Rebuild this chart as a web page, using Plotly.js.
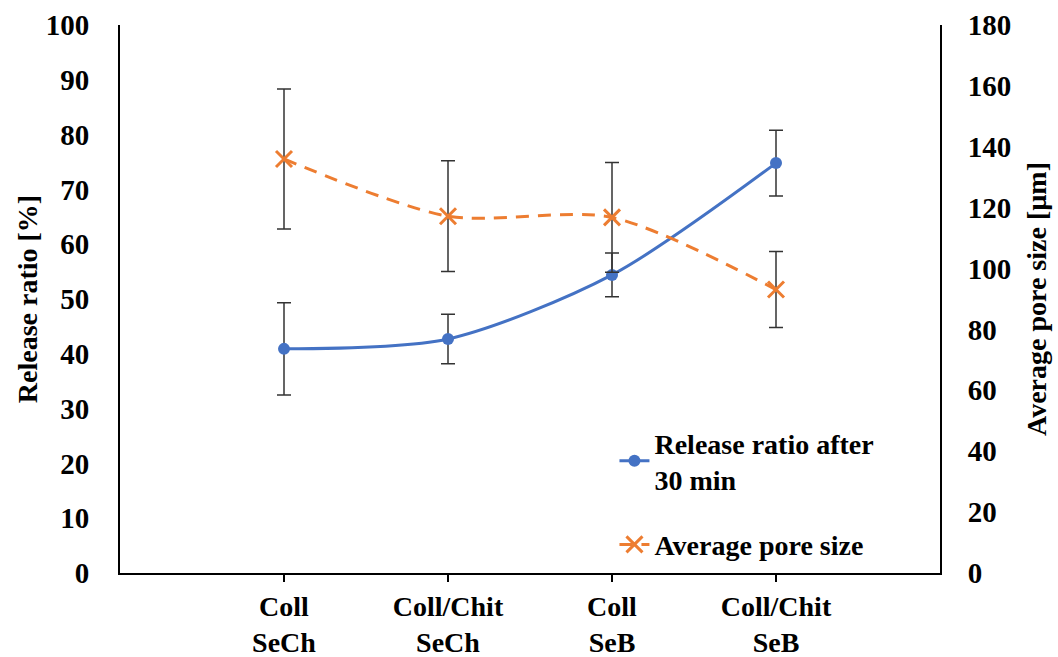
<!DOCTYPE html>
<html>
<head>
<meta charset="utf-8">
<script src="https://cdn.plot.ly/plotly-3.0.1.min.js"></script>
<style>html,body{margin:0;padding:0;background:#fff;}#chart{width:1058px;height:657px;}</style>
</head>
<body>
<div id="chart"></div>
<script>
const categories = ["Coll<br>SeCh", "Coll/Chit<br>SeCh", "Coll<br>SeB", "Coll/Chit<br>SeB"];
const releaseRatio = [40.9, 42.7, 54.4, 74.8];
const releaseErr = [8.4, 4.5, 4.0, 6.0];
const poreSize = [136, 117.2, 116.8, 93.1];
const poreErr = [23, 18.2, 18, 12.5];
const leftTicks = [0,10,20,30,40,50,60,70,80,90,100];
const rightTicks = [0,20,40,60,80,100,120,140,160,180];

const font = "Liberation Serif";

const traces = [
  {
    x: categories, y: poreSize, yaxis: 'y2', name: 'Average pore size',
    type: 'scatter', mode: 'lines+markers', legendgroup: 'b', legendrank: 2,
    line: {color: '#ED7D31', width: 3, dash: '13px,9px', shape: 'spline', smoothing: 0.8},
    marker: {symbol: 'x-thin-open', size: 16, color: '#ED7D31', line: {color: '#ED7D31', width: 3}},
    error_y: {type: 'data', array: poreErr, visible: true, color: '#333333', thickness: 1.5, width: 7}
  },
  {
    x: categories, y: releaseRatio, yaxis: 'y', name: 'Release ratio after<br>30 min',
    type: 'scatter', mode: 'lines+markers', legendgroup: 'a', legendrank: 1,
    line: {color: '#4472C4', width: 3, shape: 'spline', smoothing: 0.8},
    marker: {symbol: 'circle', size: 12, color: '#4472C4'},
    error_y: {type: 'data', array: releaseErr, visible: true, color: '#333333', thickness: 1.5, width: 7}
  }
];

const layout = {
  width: 1058, height: 657,
  margin: {l: 120, r: 118, t: 25, b: 84},
  paper_bgcolor: '#fff', plot_bgcolor: '#fff',
  font: {family: font, size: 24, color: '#000'},
  showlegend: true,
  legend: {
    x: 0.603, y: 0.283, xanchor: 'left', yanchor: 'top',
    traceorder: 'grouped', tracegroupgap: 26,
    font: {family: font, size: 28, color: '#000', weight: 700},
    bgcolor: 'rgba(0,0,0,0)'
  },
  xaxis: {
    type: 'category', range: [-1, 4],
    showline: true, linecolor: '#000', linewidth: 2,
    ticks: 'outside', ticklen: 7, tickcolor: '#000', tickwidth: 1.5,
    showgrid: false, zeroline: false,
    tickfont: {family: font, size: 28, color: '#000', weight: 700}
  },
  yaxis: {
    range: [0, 100], tickvals: leftTicks,
    showline: true, linecolor: '#000', linewidth: 2, mirror: false,
    ticks: '', showgrid: false, zeroline: false, ticklabelstandoff: 23,
    tickfont: {family: font, size: 29, color: '#000', weight: 700},
    title: {text: 'Release ratio [%]', font: {family: font, size: 28, color: '#000', weight: 700}, standoff: 0}
  },
  yaxis2: {
    range: [0, 180], tickvals: rightTicks, overlaying: 'y', side: 'right',
    showline: true, linecolor: '#000', linewidth: 2,
    ticks: '', showgrid: false, zeroline: false, ticklabelstandoff: 20,
    tickfont: {family: font, size: 29, color: '#000', weight: 700},
    title: {text: 'Average pore size [µm]', font: {family: font, size: 28, color: '#000', weight: 700}, standoff: 16}
  }
};

Plotly.newPlot('chart', traces, layout, {displayModeBar: false, staticPlot: true});
</script>
</body>
</html>
